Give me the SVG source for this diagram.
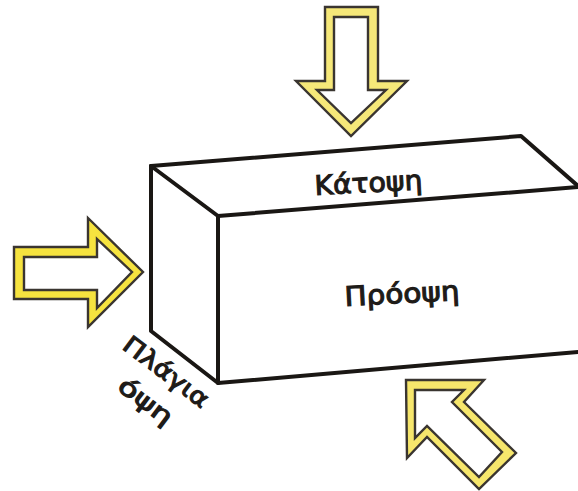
<svg xmlns="http://www.w3.org/2000/svg" width="578" height="491" viewBox="0 0 578 491">
<style>
.arrow{stroke:#3a3530;stroke-width:2.4;stroke-linejoin:miter;fill-rule:evenodd}
.edge{fill:none;stroke:#1a1714;stroke-width:4;stroke-linejoin:round;stroke-linecap:round}
text{font-family:"DejaVu Sans",Verdana,sans-serif;font-weight:normal;fill:#1e1b18;stroke:#1e1b18;stroke-width:1.1}
</style>
<rect width="578" height="491" fill="#fff"/>
<g id="arrow-top"><path class="arrow" fill="#f6e879" d="M325 7H378V81H407L351 136L296 81H325ZM334 17V90H317L351 123L386 90H368V17Z"/></g>
<g id="arrow-left"><path class="arrow" fill="#f6e33f" d="M14 247H88V218L143 272L88 327V299H14ZM24 257V290H97V308L132 272L97 239V257Z"/></g>
<g id="arrow-bottom"><path class="arrow" fill="#f6e66c" d="M406 380H484L464 402L516 453L479 489L427 437L407 458ZM415 390V438L427 426L479 477L502 452L452 402L464 390Z"/></g>
<g id="connectors">
<path class="edge" d="M151 166L521 136L578 186"/>
<path class="edge" d="M151 166L218 216L578 187"/>
<path class="edge" d="M151 166V331L218 383L578 352"/>
<path class="edge" d="M218 216V383"/>
</g>
<g id="label-top"><text transform="translate(315 195) rotate(-3)" font-size="27" textLength="108" lengthAdjust="spacingAndGlyphs">Κάτοψη</text></g>
<g id="label-front"><text transform="translate(345 306) rotate(-3)" font-size="27" textLength="115" lengthAdjust="spacingAndGlyphs">Πρόοψη</text></g>
<g id="label-side"><text transform="translate(121 348) rotate(37)" font-size="24" textLength="101" lengthAdjust="spacingAndGlyphs">Πλάγια</text><text transform="translate(116 389) rotate(37)" font-size="24" textLength="62" lengthAdjust="spacingAndGlyphs">όψη</text></g>
</svg>
